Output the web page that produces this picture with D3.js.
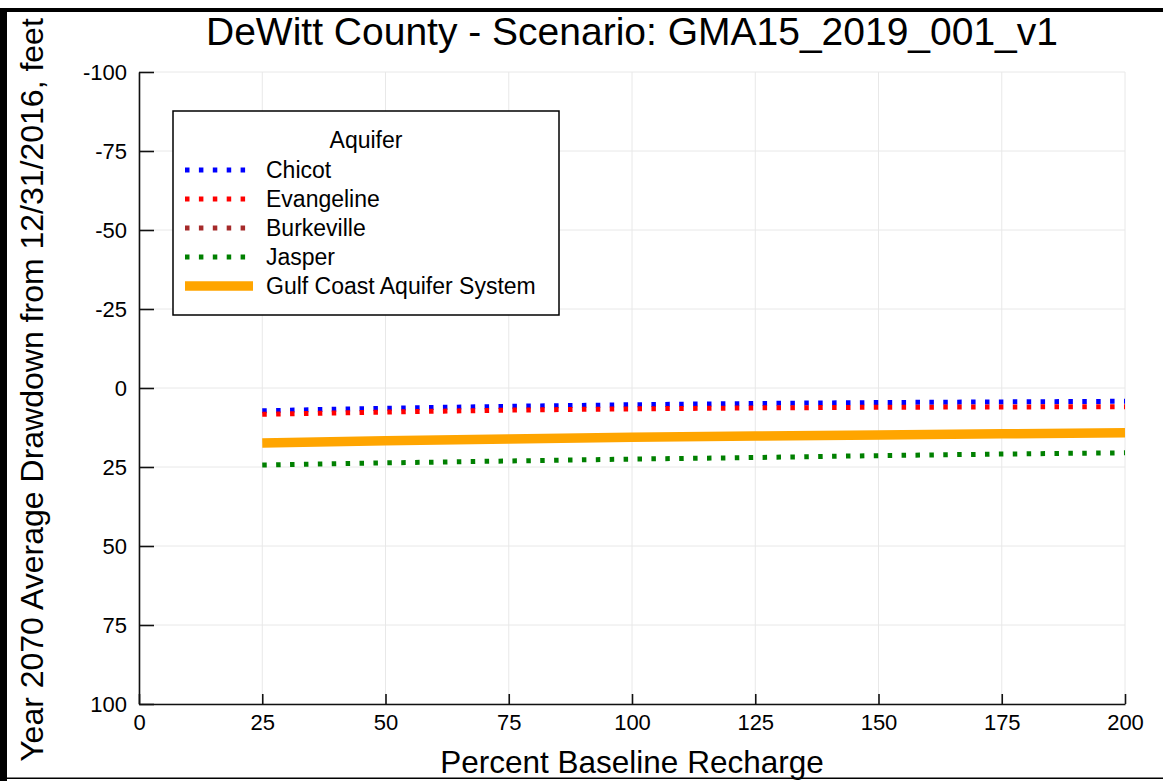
<!DOCTYPE html>
<html>
<head>
<meta charset="utf-8">
<script src="https://cdn.jsdelivr.net/npm/d3@7"></script>
<style>
  html, body { margin: 0; padding: 0; background: #fff; }
  svg { display: block; font-family: "Liberation Sans", Arial, Helvetica, sans-serif; }
</style>
</head>
<body>
<svg id="chart"></svg>
<script>
const width = 1163, height = 781;

// data
const recharge = [25, 50, 75, 100, 125, 150, 175, 200];
const chicot = [7.2, 6.4, 5.8, 5.3, 4.9, 4.6, 4.4, 4.2];
const evangeline = [8.3, 7.6, 7.0, 6.6, 6.3, 6.1, 6.0, 5.9];
const burkeville = []; // no values in this county
const jasper = [24.4, 23.7, 23.1, 22.5, 22.0, 21.4, 20.9, 20.5];
const gulfCoast = [17.4, 16.7, 16.1, 15.6, 15.2, 14.9, 14.5, 14.2];

const xTicks = [0, 25, 50, 75, 100, 125, 150, 175, 200];
const yTicks = [-100, -75, -50, -25, 0, 25, 50, 75, 100];

const titleText = "DeWitt County - Scenario: GMA15_2019_001_v1";
const xLabel = "Percent Baseline Recharge";
const yLabel = "Year 2070 Average Drawdown from 12/31/2016, feet";
const legendTitle = "Aquifer";

const series = [
  { name: "Chicot", values: chicot, color: "#0000ff", dotted: true },
  { name: "Evangeline", values: evangeline, color: "#ff0000", dotted: true },
  { name: "Burkeville", values: burkeville, color: "#a52a2a", dotted: true },
  { name: "Jasper", values: jasper, color: "#008000", dotted: true },
  { name: "Gulf Coast Aquifer System", values: gulfCoast, color: "#ffa500", dotted: false }
];

const plot = { left: 139, right: 1125, top: 72, bottom: 704 };

const svg = d3.select("#chart").attr("width", width).attr("height", height);

const x = d3.scaleLinear().domain([0, 200]).range([plot.left, plot.right]);
const y = d3.scaleLinear().domain([-100, 100]).range([plot.top, plot.bottom]);

// frame around the picture
svg.append("rect").attr("x", 0).attr("y", 8).attr("width", width).attr("height", 4).attr("fill", "#000");
svg.append("rect").attr("x", 0).attr("y", 8).attr("width", 7).attr("height", height - 8).attr("fill", "#000");
svg.append("rect").attr("x", 0).attr("y", 777.5).attr("width", width).attr("height", 1.5).attr("fill", "#000");

// grid
const grid = svg.append("g").attr("stroke", "#e8e8e8").attr("stroke-width", 1);
grid.selectAll(".gx").data(xTicks).enter().append("line")
  .attr("x1", d => x(d)).attr("x2", d => x(d))
  .attr("y1", plot.top).attr("y2", plot.bottom);
grid.selectAll(".gy").data(yTicks).enter().append("line")
  .attr("x1", plot.left).attr("x2", plot.right)
  .attr("y1", d => y(d)).attr("y2", d => y(d));

// lines
const dotW = 5, dotDash = "4.5 9.4";
const line = d3.line()
  .x((d, i) => x(recharge[i]))
  .y(d => y(d));

series.forEach(s => {
  if (!s.values.length) return;
  svg.append("path")
    .datum(s.values)
    .attr("fill", "none")
    .attr("stroke", s.color)
    .attr("stroke-width", s.dotted ? dotW : 9.5)
    .attr("stroke-dasharray", s.dotted ? dotDash : null)
    .attr("d", line);
});

// axes (plain hyphen for negatives, like the original)
const fmt = d => String(d);
const xAxis = d3.axisBottom(x).tickValues(xTicks).tickFormat(fmt)
  .tickSizeInner(-10).tickSizeOuter(0).tickPadding(10);
const yAxis = d3.axisLeft(y).tickValues(yTicks).tickFormat(fmt)
  .tickSizeInner(-15).tickSizeOuter(0).tickPadding(12);

const gx = svg.append("g").attr("transform", `translate(0,${plot.bottom})`).call(xAxis);
const gy = svg.append("g").attr("transform", `translate(${plot.left},0)`).call(yAxis);

[gx, gy].forEach(g => {
  g.attr("font-family", null).attr("font-size", null);
  g.select(".domain").attr("stroke", "#111").attr("stroke-width", 1.6);
  g.selectAll(".tick line").attr("stroke", "#111").attr("stroke-width", 1.6);
  g.selectAll(".tick text").attr("fill", "#000")
    .style("font-size", "22px");
});

// title and axis labels
svg.append("text")
  .attr("x", (plot.left + plot.right) / 2).attr("y", 45)
  .attr("text-anchor", "middle")
  .style("font-size", "39px")
  .text(titleText);

svg.append("text")
  .attr("x", (plot.left + plot.right) / 2).attr("y", 773)
  .attr("text-anchor", "middle")
  .style("font-size", "31.5px")
  .text(xLabel);

svg.append("text")
  .attr("transform", `translate(43,${390}) rotate(-90)`)
  .attr("text-anchor", "middle")
  .style("font-size", "32px")
  .text(yLabel);

// legend
const legend = svg.append("g");
const lg = { x: 173, y: 111, w: 386, h: 204 };
legend.append("rect")
  .attr("x", lg.x).attr("y", lg.y).attr("width", lg.w).attr("height", lg.h)
  .attr("fill", "#fff").attr("stroke", "#000").attr("stroke-width", 1.5);

legend.append("text")
  .attr("x", lg.x + lg.w / 2).attr("y", 148)
  .attr("text-anchor", "middle")
  .style("font-size", "23px")
  .text(legendTitle);

series.forEach((s, i) => {
  const cy = 170 + i * 29;
  legend.append("line")
    .attr("x1", 185).attr("x2", 253)
    .attr("y1", cy).attr("y2", cy)
    .attr("stroke", s.color)
    .attr("stroke-width", s.dotted ? dotW : 9.5)
    .attr("stroke-dasharray", s.dotted ? dotDash : null);
  legend.append("text")
    .attr("x", 266).attr("y", cy + 8)
    .style("font-size", "23px")
    .text(s.name);
});
</script>
</body>
</html>
